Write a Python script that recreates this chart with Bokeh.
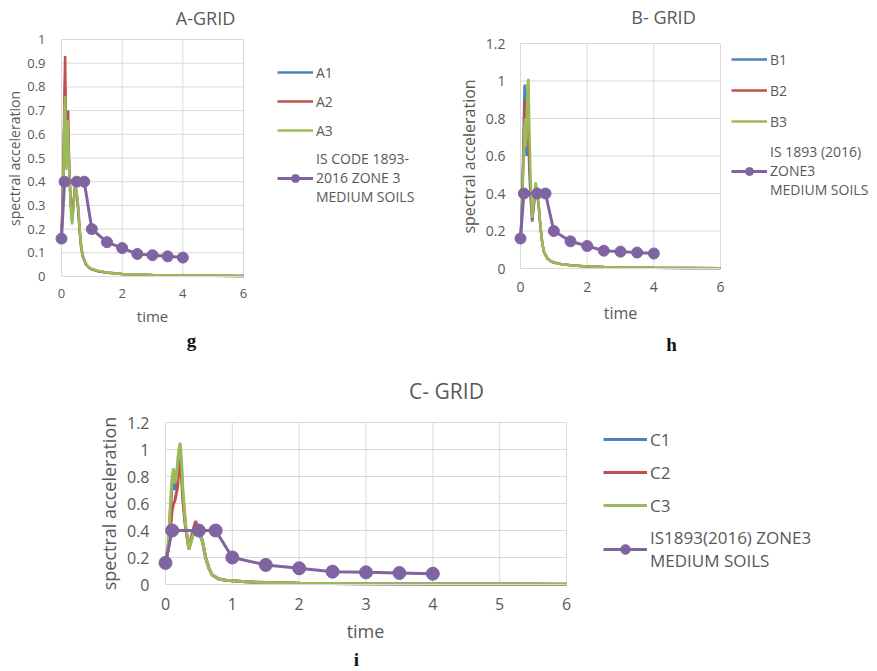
import math
from bokeh.plotting import figure
from bokeh.models import Legend, LegendItem, Label, FixedTicker, LinearAxis, Range1d
from bokeh.layouts import column, row
from bokeh.embed import file_html
from bokeh.resources import INLINE

# ---------------- data ----------------
time_resp = [0, 0.04, 0.08, 0.1, 0.12, 0.14, 0.16, 0.18, 0.2, 0.22, 0.24, 0.26, 0.3, 0.35,
             0.4, 0.45, 0.5, 0.55, 0.6, 0.65, 0.7, 0.8, 0.9, 1.0, 1.2, 1.5, 2.0, 2.5, 3.0,
             4.0, 5.0, 6.0]

A1 = [0.16, 0.33, 0.58, 0.74, 0.80, 0.62, 0.48, 0.56, 0.64, 0.62, 0.50, 0.43, 0.31, 0.23,
      0.31, 0.38, 0.35, 0.29, 0.19, 0.125, 0.088, 0.054, 0.039, 0.031, 0.023, 0.017, 0.011,
      0.008, 0.006, 0.004, 0.003, 0.002]
A2 = [0.16, 0.35, 0.60, 0.80, 0.93, 0.70, 0.50, 0.60, 0.68, 0.70, 0.55, 0.45, 0.32, 0.24,
      0.32, 0.39, 0.35, 0.28, 0.19, 0.12, 0.085, 0.052, 0.038, 0.030, 0.022, 0.016, 0.011,
      0.008, 0.006, 0.004, 0.003, 0.002]
A3 = [0.16, 0.30, 0.55, 0.70, 0.76, 0.60, 0.45, 0.55, 0.66, 0.60, 0.50, 0.42, 0.30, 0.22,
      0.30, 0.38, 0.36, 0.30, 0.20, 0.13, 0.09, 0.055, 0.040, 0.032, 0.024, 0.017, 0.011,
      0.008, 0.006, 0.004, 0.003, 0.002]

B1 = [0.16, 0.30, 0.60, 0.80, 0.97, 0.98, 0.75, 0.60, 0.75, 0.85, 0.70, 0.55, 0.38, 0.25,
      0.33, 0.42, 0.40, 0.32, 0.22, 0.14, 0.09, 0.055, 0.040, 0.032, 0.024, 0.017, 0.011,
      0.008, 0.006, 0.004, 0.003, 0.002]
B2 = [0.16, 0.29, 0.55, 0.70, 0.85, 0.90, 0.70, 0.65, 0.85, 0.95, 0.80, 0.62, 0.42, 0.26,
      0.34, 0.44, 0.41, 0.33, 0.22, 0.14, 0.09, 0.055, 0.040, 0.032, 0.024, 0.017, 0.011,
      0.008, 0.006, 0.004, 0.003, 0.002]
B3 = [0.16, 0.28, 0.50, 0.62, 0.75, 0.80, 0.65, 0.70, 0.90, 1.00, 1.01, 0.80, 0.50, 0.27,
      0.35, 0.46, 0.42, 0.33, 0.22, 0.14, 0.09, 0.055, 0.040, 0.032, 0.024, 0.017, 0.011,
      0.008, 0.006, 0.004, 0.003, 0.002]

C1 = [0.16, 0.28, 0.60, 0.74, 0.80, 0.70, 0.74, 0.85, 0.95, 1.00, 0.86, 0.66, 0.43, 0.26,
      0.35, 0.42, 0.38, 0.32, 0.20, 0.12, 0.07, 0.040, 0.032, 0.028, 0.020, 0.014, 0.010,
      0.008, 0.006, 0.004, 0.003, 0.002]
C2 = [0.16, 0.25, 0.45, 0.55, 0.60, 0.62, 0.67, 0.72, 0.85, 0.90, 0.80, 0.62, 0.42, 0.27,
      0.38, 0.47, 0.40, 0.33, 0.20, 0.12, 0.07, 0.040, 0.032, 0.028, 0.020, 0.014, 0.010,
      0.008, 0.006, 0.004, 0.003, 0.002]
C3 = [0.16, 0.30, 0.65, 0.80, 0.86, 0.75, 0.78, 0.90, 1.00, 1.05, 0.90, 0.70, 0.45, 0.26,
      0.35, 0.42, 0.38, 0.33, 0.20, 0.12, 0.07, 0.040, 0.032, 0.028, 0.020, 0.014, 0.010,
      0.008, 0.006, 0.004, 0.003, 0.002]

is_time = [0, 0.1, 0.5, 0.75, 1.0, 1.5, 2.0, 2.5, 3.0, 3.5, 4.0]
is_sa = [0.16, 0.40, 0.40, 0.40, 0.20, 0.145, 0.12, 0.095, 0.09, 0.085, 0.08]

x_ticks_AB = [0, 2, 4, 6]
x_ticks_C = [0, 1, 2, 3, 4, 5, 6]
y_ticks_A = [0, 0.1, 0.2, 0.3, 0.4, 0.5, 0.6, 0.7, 0.8, 0.9, 1.0]
y_labels_A = ["0", "0.1", "0.2", "0.3", "0.4", "0.5", "0.6", "0.7", "0.8", "0.9", "1"]
y_ticks_BC = [0, 0.2, 0.4, 0.6, 0.8, 1.0, 1.2]
y_labels_BC = ["0", "0.2", "0.4", "0.6", "0.8", "1", "1.2"]

titles = ["A-GRID", "B- GRID", "C- GRID"]
sub_labels = ["g", "h", "i"]
x_title = "time"
y_title = "spectral acceleration"
legend_labels_A = ["A1", "A2", "A3", "IS CODE 1893-\n2016 ZONE 3\nMEDIUM SOILS"]
legend_labels_B = ["B1", "B2", "B3", "IS 1893 (2016)\nZONE3\nMEDIUM SOILS"]
legend_labels_C = ["C1", "C2", "C3", "IS1893(2016) ZONE3\nMEDIUM SOILS"]

COLORS = ["#4F81BD", "#C0504D", "#9BBB59"]
PURPLE = "#8064A2"
GRID = "#D9D9D9"
TXT = "#595959"
FONT = "Open Sans"


def make_chart(cfg):
    cx, cy, w, h = cfg["canvas"]          # page position / size of the canvas
    px0, py0 = cfg["origin"]              # page position of data (0, 0)
    xmax, ymax = 6.0, cfg["ymax"]
    sx = (cfg["x6"] - px0) / xmax         # px per unit
    sy = (py0 - cfg["ytop"]) / ymax
    xr = Range1d((cx - px0) / sx, (cx + w - px0) / sx)
    yr = Range1d((py0 - (cy + h)) / sy, (py0 - cy) / sy)

    def scr(px, py):
        return px - cx, (cy + h) - py

    p = figure(width=w, height=h, output_backend="svg", toolbar_location=None,
               x_range=xr, y_range=yr, x_axis_type=None, y_axis_type=None,
               min_border_left=0, min_border_right=0, min_border_top=0, min_border_bottom=0)
    p.outline_line_color = None
    p.background_fill_color = "white"
    p.border_fill_color = "white"

    # plot-area grid lines (at tick positions) forming the boxed plot area
    xt, yt = cfg["xt"], cfg["yt"]
    p.segment(x0=xt, y0=[0] * len(xt), x1=xt, y1=[ymax] * len(xt),
              line_color=GRID, line_width=1, level="underlay")
    p.segment(x0=[0] * len(yt), y0=yt, x1=[xmax] * len(yt), y1=yt,
              line_color=GRID, line_width=1, level="underlay")

    xaxis = LinearAxis(ticker=FixedTicker(ticks=xt), fixed_location=0, bounds=(0, xmax))
    yaxis = LinearAxis(ticker=FixedTicker(ticks=yt), fixed_location=0, bounds=(0, ymax))
    yaxis.major_label_overrides = {t: l for t, l in zip(yt, cfg["yl"])}
    for ax in (xaxis, yaxis):
        ax.major_tick_line_color = None
        ax.minor_tick_line_color = None
        ax.major_label_text_font = FONT
        ax.major_label_text_color = TXT
        ax.major_label_text_font_size = cfg["tick_fs"]
    xaxis.axis_line_color = GRID
    yaxis.axis_line_color = None
    xaxis.major_label_standoff = cfg["xstand"]
    yaxis.major_label_standoff = cfg["ystand"]
    p.add_layout(xaxis, "below")
    p.add_layout(yaxis, "left")

    rends = []
    for ys, c in zip(cfg["series"], COLORS):
        rends.append([p.line(time_resp, ys, line_color=c, line_width=cfg["lw"])])
    l4 = p.line(is_time, is_sa, line_color=PURPLE, line_width=3)
    s4 = p.scatter(is_time, is_sa, size=cfg["ms"], fill_color=PURPLE, line_color=PURPLE)
    rends.append([l4, s4])

    items = [LegendItem(label=lab, renderers=rr) for lab, rr in zip(cfg["labels"], rends)]
    lx, ly = scr(cfg["leg_x"], cfg["leg_bottom"])
    leg = Legend(items=items, location=(lx, ly),
                 glyph_width=cfg["gw"], glyph_height=cfg["leg_h"], label_height=cfg["leg_h"],
                 padding=0, margin=0, spacing=cfg["leg_sp"], label_standoff=3,
                 border_line_color=None, background_fill_alpha=0,
                 label_text_font=FONT, label_text_font_size=cfg["leg_fs"],
                 label_text_color=TXT, label_text_line_height=cfg["leg_lh"])
    p.add_layout(leg, "center")

    def label(text, pos, font, size, color, angle=0.0, style="normal"):
        x, y = scr(*pos)
        p.add_layout(Label(x=x, y=y, x_units="screen", y_units="screen", text=text,
                           angle=angle, text_align="center", text_baseline="middle",
                           text_font=font, text_font_size=size,
                           text_font_style=style, text_color=color))

    label(cfg["title"], cfg["title_xy"], FONT, cfg["title_fs"], TXT)
    label(x_title, cfg["xlab_xy"], FONT, cfg["xlab_fs"], TXT)
    label(y_title, cfg["ylab_xy"], FONT, cfg["ylab_fs"], TXT, angle=math.pi / 2)
    label(cfg["sub"], cfg["sub_xy"], "Liberation Serif", "19px", "#111111", style="bold")
    return p


cfgA = dict(canvas=(0, 0, 440, 365), origin=(61, 276), x6=243, ytop=39, ymax=1.0,
            xt=x_ticks_AB, yt=y_ticks_A, yl=y_labels_A, tick_fs="13px", xstand=6, ystand=10,
            series=[A1, A2, A3], lw=2.5, ms=11, labels=legend_labels_A,
            leg_x=277, leg_bottom=206, gw=36, leg_h=20, leg_sp=9, leg_fs="14px", leg_lh=1.32,
            title=titles[0], title_xy=(205, 17), title_fs="18px",
            xlab_xy=(152, 315), xlab_fs="15px", ylab_xy=(14, 158), ylab_fs="14px",
            sub=sub_labels[0], sub_xy=(191, 340))
cfgB = dict(canvas=(440, 0, 437, 365), origin=(520, 268), x6=720, ytop=43, ymax=1.2,
            xt=x_ticks_AB, yt=y_ticks_BC, yl=y_labels_BC, tick_fs="14px", xstand=7, ystand=9,
            series=[B1, B2, B3], lw=2.5, ms=11, labels=legend_labels_B,
            leg_x=731, leg_bottom=199, gw=36, leg_h=20, leg_sp=11, leg_fs="14px", leg_lh=1.43,
            title=titles[1], title_xy=(663, 16), title_fs="18px",
            xlab_xy=(620, 312), xlab_fs="16px", ylab_xy=(468, 156), ylab_fs="16px",
            sub=sub_labels[1], sub_xy=(671, 344))
cfgC = dict(canvas=(0, 365, 877, 306), origin=(165, 584), x6=566, ytop=422, ymax=1.2,
            xt=x_ticks_C, yt=y_ticks_BC, yl=y_labels_BC, tick_fs="16px", xstand=7, ystand=10,
            series=[C1, C2, C3], lw=3, ms=13, labels=legend_labels_C,
            leg_x=603, leg_bottom=572, gw=44, leg_h=24, leg_sp=9, leg_fs="17px", leg_lh=1.35,
            title=titles[2], title_xy=(446, 390), title_fs="21px",
            xlab_xy=(365, 630), xlab_fs="18px", ylab_xy=(108, 503), ylab_fs="18px",
            sub=sub_labels[2], sub_xy=(356, 659))

pA = make_chart(cfgA)
pB = make_chart(cfgB)
pC = make_chart(cfgC)

layout = column(row(pA, pB), pC)
open("out.html", "w").write(file_html(layout, INLINE))
